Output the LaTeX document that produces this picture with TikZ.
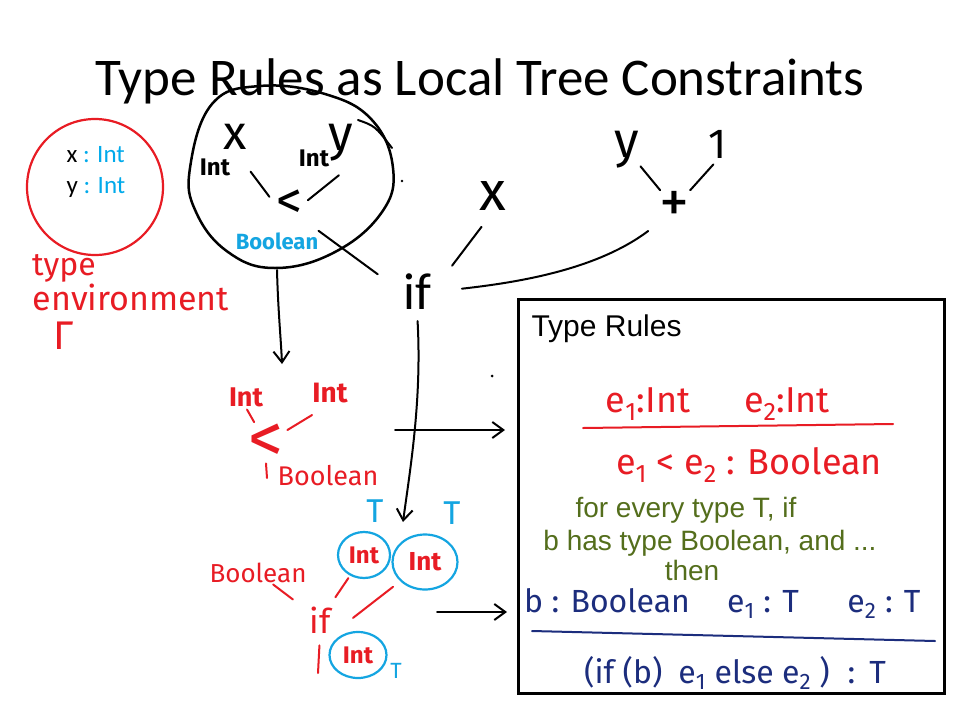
\documentclass[tikz,border=0pt]{standalone}
\usepackage{fontspec}
\setmainfont{Carlito}
\newfontfamily\arialfont{Liberation Sans}
\newfontfamily\handfont{Fira Sans}
\usetikzlibrary{arrows.meta,shapes.geometric}
\definecolor{penred}{RGB}{232,28,36}
\definecolor{penblue}{RGB}{20,165,225}
\definecolor{typeblue}{RGB}{0,170,235}
\definecolor{pennavy}{RGB}{28,45,125}
\definecolor{rulegreen}{RGB}{84,110,28}
\begin{document}
\begin{tikzpicture}[x=1pt, y=-1pt]
	    \tikzset{>={Straight Barb[length=11pt,width=16pt]}}
	    \tikzset{hand/.style={font=\handfont\fontsize{#1}{#1}\selectfont, inner sep=1pt}}
	    \tikzset{handbold/.style={font=\handfont\bfseries\fontsize{#1}{#1}\selectfont, inner sep=1pt}}
	    \tikzset{penline/.style={line width=2pt, line cap=round}}
	    \tikzset{penarrow/.style={penline, ->}}
	    \tikzset{circled/.style={ellipse, draw=penblue, line width=2.2pt, inner sep=0pt}}
	    \path[use as bounding box, fill=white] (0,0) rectangle (960,720);
	    \node[anchor=base, font=\fontsize{53}{53}\selectfont] (title) at (480,95) {Type Rules as Local Tree Constraints};
	    \node[anchor=base west, font=\fontsize{25}{25}\selectfont] (envx) at (63,162) {x \textcolor{typeblue}{: Int}};
	    \node[anchor=base west, font=\fontsize{25}{25}\selectfont] (envy) at (63,193) {y \textcolor{typeblue}{: Int}};
	    \draw[penred, line width=2.2pt] (95,187) ellipse [x radius=68pt, y radius=68pt];
	    \node[hand=32, text=penred] (typeword) at (64,268) {type};
	    \node[hand=34, text=penred] (envword) at (131,297) {environment};
	    \node[hand=40, text=penred] (gamma) at (64,336) {Γ};
	    \draw[line width=2.5pt] plot[smooth cycle, tension=0.7] coordinates {(190,168) (212,104) (260,86) (325,94) (372,120) (393,168) (382,212) (335,252) (275,268) (228,252) (196,212)};
	    \draw[penline] (358,120) .. controls (375,126) .. (392,148);
	    \node[hand=48] (cx) at (235,137) {x};
	    \node[hand=50] (cy) at (341,143) {y};
	    \node[handbold=24] (cint1) at (215,167) {Int};
	    \node[handbold=24] (cint2) at (314,158) {Int};
	    \node[hand=52] (clt) at (289,204) {<};
	    \node[handbold=22, text=penblue] (cbool) at (277,241) {Boolean};
	    \node[font=\fontsize{52}{52}\selectfont, inner sep=1pt] (if) at (417,292) {if};
	    \node[hand=55] (ix) at (493,196) {x};
	    \node[hand=50] (py) at (627,150) {y};
	    \node[hand=42] (pone) at (718,144) {1};
	    \node[hand=60] (plus) at (674,207) {+};
	    \draw[penline, shorten <=26pt, shorten >=9pt] (cx.south) -- (clt.west);
	    \draw[penline, shorten <=20pt, shorten >=6pt] (cy.south east) -- (clt.east);
	    \draw[penline, shorten <=19pt, shorten >=30pt] (clt.south east) -- (if.west);
	    \draw[penline, shorten <=33pt, shorten >=19pt] (if.east) -- (ix.south);
	    \draw[penline, shorten <=30pt, shorten >=12pt] (if.east) .. controls +(90,-10) and +(-60,45) .. (plus.south west);
	    \draw[penline] (py) -- (plus);
	    \draw[penline, shorten <=7pt] (pone.south) -- (plus.north east);
	    \fill (402,181) circle (1.3pt);
	    \fill (492,376) circle (1.5pt);
	    \coordinate (blobfoot) at (277,270);
	    \coordinate (redtop) at (282,364);
	    \draw[penarrow] (blobfoot) .. controls (278,310) and (281,340) .. (redtop);
	    \coordinate (tT) at (403,522);
	    \draw[penarrow, shorten <=10pt] (if.south) .. controls (422,400) and (410,470) .. (tT);
	    \node[handbold=27, text=penred] (rint1) at (246,397) {Int};
	    \node[handbold=28, text=penred] (rint2) at (330,393) {Int};
	    \node[hand=70, text=penred] (rlt) at (266,443) {<};
	    \node[hand=27, text=penred] (rbool) at (328,476) {Boolean};
	    \coordinate (rstub) at (267,478);
	    \draw[penline, penred, shorten <=2pt, shorten >=24pt] (rint1.south) -- (rlt.center);
	    \draw[penline, penred, shorten <=21pt, shorten >=25pt] (rint2.south) -- (rlt.center);
	    \draw[penline, penred] (rlt.south) -- (rstub);
	    \node[hand=33, text=penblue] (bT1) at (375,511) {T};
	    \node[hand=33, text=penblue] (bT2) at (452,513) {T};
	    \node[circled, handbold=24, text=penred, minimum width=52pt, minimum height=46pt] (bint1) at (364,555) {Int};
	    \node[circled, handbold=26, text=penred, minimum width=65pt, minimum height=55pt] (bint2) at (425,562) {Int};
	    \node[circled, handbold=24, text=penred, minimum width=57pt, minimum height=46pt] (bint3) at (358,655) {Int};
	    \node[hand=22, text=penblue] (bT3) at (396,671) {T};
	    \node[hand=26, text=penred] (bbool) at (258,573) {Boolean};
	    \node[hand=34, text=penred] (bif) at (320,620) {if};
	    \coordinate (bstub) at (318,673);
	    \draw[penline, penred, shorten <=19pt, shorten >=34pt] (bbool.center) -- (bif.center);
	    \draw[penline, penred, shorten <=3pt, shorten >=10pt] (bint1) -- (bif);
	    \draw[penline, penred, shorten <=9pt, shorten >=27pt] (bint2) -- (bif.south east);
	    \draw[penline, penred, shorten <=11pt] (bif.south) -- (bstub);
	    \node[draw, line width=3pt, anchor=north west, minimum width=426pt, minimum height=394pt] (rules) at (517,298) {};
	    \coordinate (ltail) at (395,430);
	    \coordinate (btail) at (437,612);
	    \draw[penarrow, shorten >=12pt] (ltail) -- (rules.west |- ltail);
	    \draw[penarrow, shorten >=10pt] (btail) -- (rules.west |- btail);
	    \node[anchor=base west, font=\arialfont\fontsize{30}{30}\selectfont] (rtitle) at (528,336) {Type Rules};
	    \node[hand=36, text=penred, anchor=base] (prem1) at (648,412) {e\textsubscript{1}:Int};
	    \node[hand=36, text=penred, anchor=base] (prem2) at (787,412) {e\textsubscript{2}:Int};
	    \draw[penline, penred] (583,428) -- (893,424);
	    \node[hand=36, text=penred, anchor=base] (concl1) at (749,474) {e\textsubscript{1} < e\textsubscript{2} : Boolean};
	    \node[anchor=base, font=\arialfont\fontsize{28}{28}\selectfont, text=rulegreen] (every) at (686,517) {for every type T, if};
	    \node[anchor=base, font=\arialfont\fontsize{28}{28}\selectfont, text=rulegreen] (hastype) at (710,550) {b has type Boolean, and ...};
	    \node[anchor=base, font=\arialfont\fontsize{28}{28}\selectfont, text=rulegreen] (then) at (692,580) {then};
	    \node[hand=32, text=pennavy, anchor=base] (prem3) at (607,612) {b : Boolean};
	    \node[hand=32, text=pennavy, anchor=base] (prem4) at (763,612) {e\textsubscript{1} : T};
	    \node[hand=32, text=pennavy, anchor=base] (prem5) at (884,612) {e\textsubscript{2} : T};
	    \draw[penline, pennavy] (532,631) -- (935,641);
	    \node[hand=32, text=pennavy, anchor=base] (concl2) at (735,683) {(if (b)\hspace{16pt}e\textsubscript{1} else e\textsubscript{2}\hspace{8pt})\hspace{18pt}:\hspace{14pt}T};
	\end{tikzpicture}
\end{document}
